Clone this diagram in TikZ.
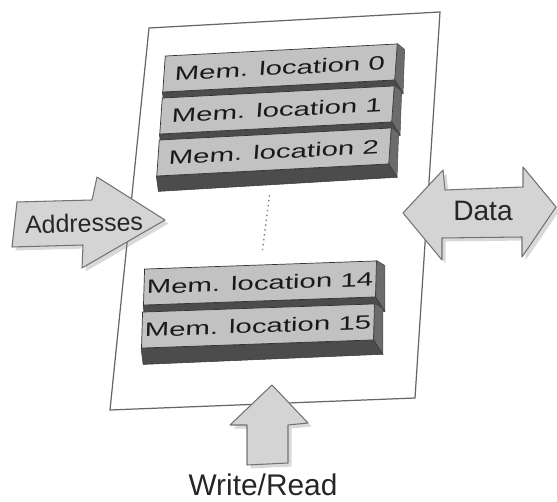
\documentclass[tikz,border=0pt]{standalone}
\usepackage{fontspec}
\setmainfont{Liberation Sans}
\usetikzlibrary{calc,shadows}

\definecolor{cellface}{gray}{0.76}
\definecolor{cellbottom}{gray}{0.30}
\definecolor{cellside}{gray}{0.42}
\definecolor{arrowfill}{gray}{0.83}
\definecolor{arrowline}{gray}{0.45}
\definecolor{sheetline}{gray}{0.40}

\tikzset{
  memcell/.style={draw=gray!40!black, line width=0.4pt, fill=cellface,
    minimum width=4.64cm, minimum height=0.72cm, inner sep=0pt,
    text=black!90, font=\fontsize{11}{12}\selectfont},
  topblock/.style={cm={1,0.052,0.07,1,(0,0)}},
  lowblock/.style={cm={1,0.035,0.03,1,(0,0)}},
  bottomface/.style={fill=cellbottom, draw=cellbottom!70!black, line width=0.3pt},
  sideface/.style={fill=cellside, draw=cellbottom, line width=0.3pt},
  bigarrow/.style={draw=arrowline, line width=0.6pt, fill=arrowfill, line join=round,
    drop shadow={shadow xshift=2pt, shadow yshift=-2pt, opacity=0.3}},
  arrowtext/.style={text=black!85, inner sep=0pt}
}
\newcommand{\wide}[1]{\scalebox{1.52}[1]{#1}}

\begin{document}
\begin{tikzpicture}[x=0.02cm, y=-0.02cm]
\useasboundingbox (0,0) rectangle (557,502);

% sheet
\draw[sheetline, line width=0.7pt] (149,28) -- (440,12) -- (415,398) -- (110,410) -- cycle;

% upper memory locations
\foreach \n/\x/\y in {0/280/68, 1/277/110, 2/274/152} {
  \node[memcell, topblock] (loc\n) at (\x,\y) {\wide{Mem. location \n}};
  \draw[sideface] (loc\n.north east) -- ($(loc\n.north east)+(7,6)$) -- ($(loc\n.south east)+(8,13)$) -- (loc\n.south east) -- cycle;
  \draw[bottomface] (loc\n.south west) -- (loc\n.south east) -- ($(loc\n.south east)+(8,13)$) -- ($(loc\n.south west)+(2,15)$) -- cycle;
}

% lower memory locations
\foreach \n/\x/\y in {14/260/283, 15/258/326} {
  \node[memcell, lowblock] (loc\n) at (\x,\y) {\wide{Mem. location \n}};
  \draw[sideface] (loc\n.north east) -- ($(loc\n.north east)+(8,5)$) -- ($(loc\n.south east)+(9,14)$) -- (loc\n.south east) -- cycle;
  \draw[bottomface] (loc\n.south west) -- (loc\n.south east) -- ($(loc\n.south east)+(9,14)$) -- ($(loc\n.south west)+(2,16)$) -- cycle;
}

% dots between the blocks
\draw[gray, dotted, line width=0.8pt, shorten <=0.5cm, shorten >=0.24cm] (loc2.south) -- (loc14.north);

% arrows
\draw[bigarrow] (17,202) -- (92,200) -- (97,177) -- (165,220) -- (82,268) -- (83,245) -- (12,247) -- cycle;
\node[arrowtext, font=\fontsize{14.2}{16}\selectfont, rotate=1.5] (addr) at (84,223) {Addresses};

\draw[bigarrow] (403,213) -- (443,170) -- (445,190) -- (523,187) -- (523,167) -- (556,207) -- (522,257) -- (522,237) -- (442,238) -- (442,260) -- cycle;
\node[arrowtext, font=\fontsize{16}{18}\selectfont] (data) at (483,211) {Data};

\draw[bigarrow] (272,385) -- (308,423) -- (288,425) -- (288,463) -- (247,465) -- (247,425) -- (230,425) -- cycle;
\node[arrowtext, font=\fontsize{17}{20}\selectfont] (wr) at (263,485) {Write/Read};

\end{tikzpicture}
\end{document}
